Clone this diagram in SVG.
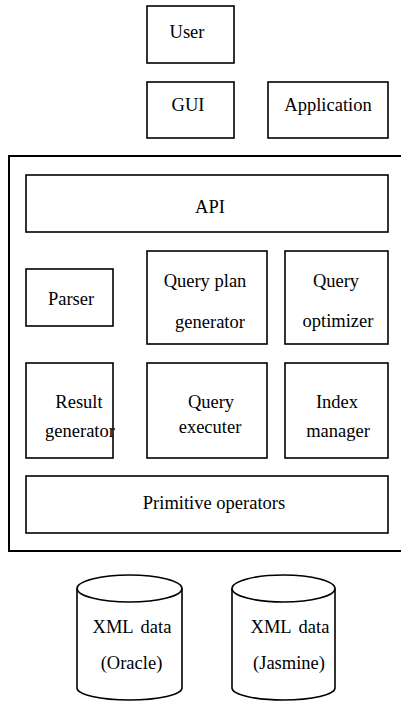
<svg xmlns="http://www.w3.org/2000/svg" width="401" height="701" viewBox="0 0 401 701">
<style>
.b{fill:#fff;stroke:#000;stroke-width:1.6}
.o{fill:none;stroke:#000;stroke-width:2}
.t{font-family:'Liberation Serif','DejaVu Serif',serif;font-size:18.5px;fill:#000;text-anchor:middle}
</style>
<rect width="401" height="701" fill="#fff"/>
<g id="outer"><path class="o" d="M402,156 H9 V551 H402"/></g>
<g class="t" font-family="Liberation Serif, serif">
<g id="user"><rect class="b" x="147" y="6" width="87" height="57"/><text x="187" y="38">User</text></g>
<g id="gui"><rect class="b" x="147" y="82" width="87" height="56"/><text x="188" y="111">GUI</text></g>
<g id="application"><rect class="b" x="268" y="82" width="120" height="56"/><text x="328" y="111">Application</text></g>
<g id="api"><rect class="b" x="26" y="175" width="362" height="57"/><text x="210" y="213">API</text></g>
<g id="parser"><rect class="b" x="26" y="269" width="87" height="57"/><text x="71" y="305">Parser</text></g>
<g id="query-plan-generator"><rect class="b" x="147" y="251" width="120" height="93"/><text x="205" y="287">Query plan</text><text x="210" y="328">generator</text></g>
<g id="query-optimizer"><rect class="b" x="285" y="251" width="103" height="93"/><text x="336" y="287">Query</text><text x="338" y="327">optimizer</text></g>
<g id="result-generator"><rect class="b" x="26" y="363" width="87" height="95"/><text x="79" y="408">Result</text><text x="80" y="437">generator</text></g>
<g id="query-executer"><rect class="b" x="147" y="363" width="120" height="95"/><text x="211" y="408">Query</text><text x="210" y="433">executer</text></g>
<g id="index-manager"><rect class="b" x="285" y="363" width="103" height="95"/><text x="337" y="408">Index</text><text x="338" y="437">manager</text></g>
<g id="primitive-operators"><rect class="b" x="26" y="476" width="362" height="57"/><text x="214" y="509">Primitive operators</text></g>
<g id="xml-oracle">
<path class="b" d="M77,588.5 V688 A52.5,12 0 0 0 182,688 V588.5"/>
<ellipse class="b" cx="129.5" cy="588.5" rx="52.5" ry="13.5"/>
<text x="132" y="633" word-spacing="3">XML data</text><text x="131.5" y="669">(Oracle)</text>
</g>
<g id="xml-jasmine">
<path class="b" d="M232,588.5 V688 A51.5,12 0 0 0 335,688 V588.5"/>
<ellipse class="b" cx="283.5" cy="588.5" rx="51.5" ry="13.5"/>
<text x="290" y="633" word-spacing="3">XML data</text><text x="289" y="669">(Jasmine)</text>
</g>
</g>
<g id="connectors"></g>
</svg>
